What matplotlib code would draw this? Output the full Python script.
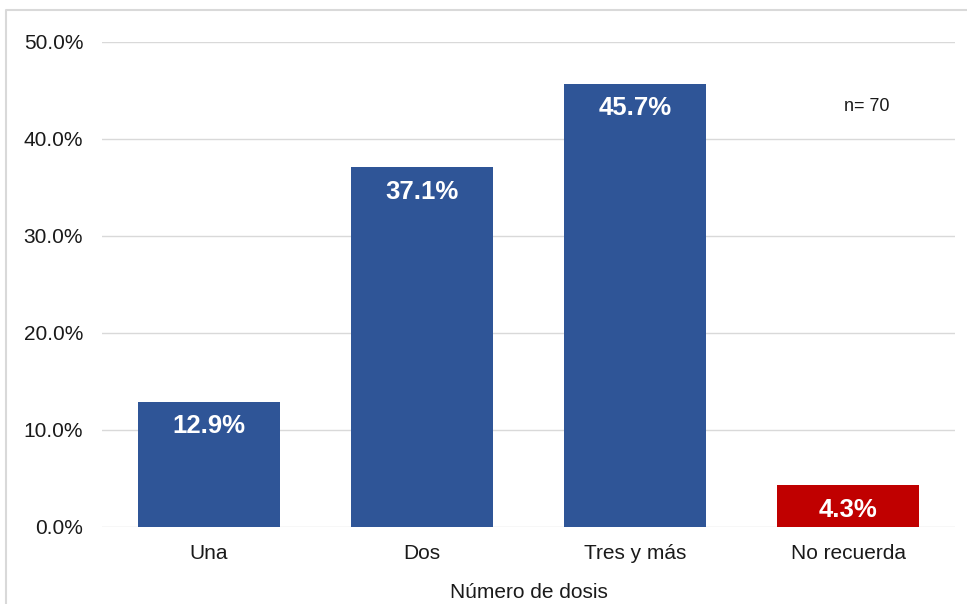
import matplotlib
matplotlib.use("Agg")
import matplotlib.pyplot as plt
from matplotlib.lines import Line2D

plt.rcParams['font.family'] = ['Liberation Sans', 'DejaVu Sans']

categories = ["Una", "Dos", "Tres y más", "No recuerda"]
values = [12.9, 37.1, 45.7, 4.3]
colors = ["#2F5597", "#2F5597", "#2F5597", "#C00000"]
yticks = [0, 10, 20, 30, 40, 50]
xlabel = "Número de dosis"
note = "n= 70"

W, H = 967, 604
fig = plt.figure(figsize=(W / 100, H / 100), dpi=100)
ax = fig.add_axes([102 / W, 1 - 527 / H, (955 - 102) / W, (527 - 42) / H])

x = range(len(categories))
bars = ax.bar(x, values, width=0.667, color=colors, zorder=3)
ax.set_xlim(-0.5, len(categories) - 0.5)
ax.set_ylim(0, 50)
ax.set_yticks(yticks)
ax.set_yticklabels([f"{t:.1f}%" for t in yticks], fontsize=15, color="#1a1a1a")
ax.set_xticks(list(x))
ax.set_xticklabels(categories, fontsize=15, color="#1a1a1a")
ax.tick_params(axis="both", length=0)
ax.tick_params(axis="y", pad=13.5)
ax.tick_params(axis="x", pad=12.5)
ax.grid(axis="y", color="#D9D9D9", linewidth=1, zorder=0)
for s in ax.spines.values():
    s.set_visible(False)
ax.set_xlabel(xlabel, fontsize=15, color="#1a1a1a", labelpad=14)

for rect, v in zip(bars, values):
    ax.annotate(f"{v:.1f}%", (rect.get_x() + rect.get_width() / 2, v),
                xytext=(0, -9), textcoords="offset points",
                ha="center", va="top", color="white",
                fontsize=18.5, fontweight="bold", zorder=4)

ax.text(3.087, 43.3, note, ha="center", va="center", fontsize=13, color="#1a1a1a")

# outer frame (left and top edges)
fig.add_artist(Line2D([5.5 / W, 5.5 / W, 1.0], [0.0, 1 - 9.5 / H, 1 - 9.5 / H],
                      transform=fig.transFigure, color="#D9D9D9", linewidth=1.5))

fig.savefig("out.png", dpi=100)
